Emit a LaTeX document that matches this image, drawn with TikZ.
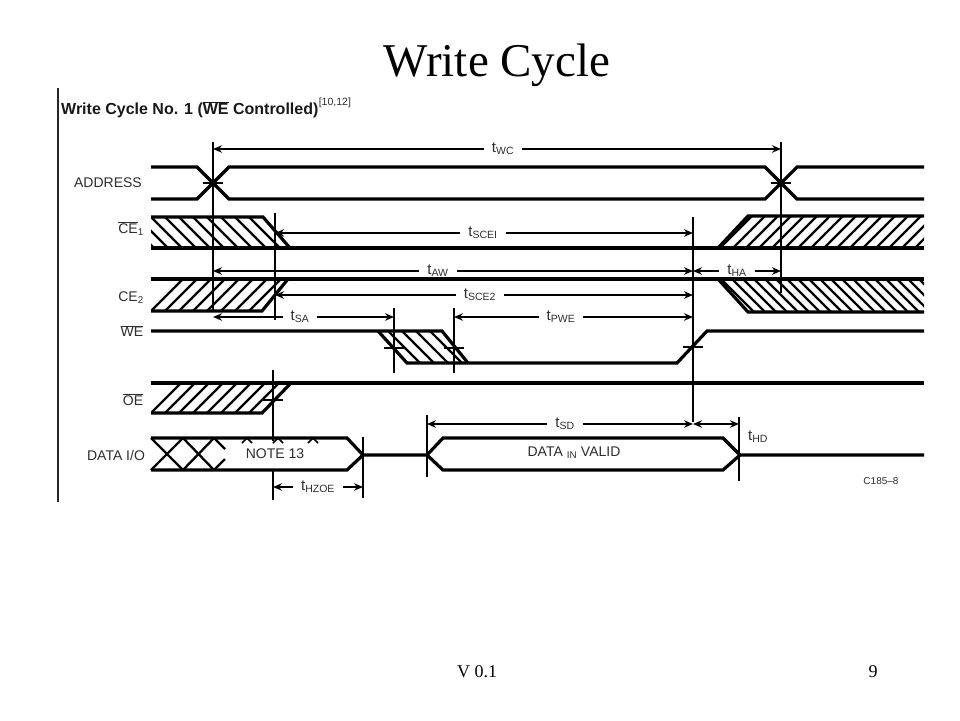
\documentclass[tikz,border=0pt]{standalone}
\usepackage{fontspec}
\setmainfont{Liberation Serif}
\setsansfont{Liberation Sans}
\usetikzlibrary{arrows.meta}
\definecolor{inkgrey}{HTML}{2E2E2E}
\tikzset{
    signal/.style={line width=3.2pt, black, line join=miter},
    edgeline/.style={line width=2.1pt, black},
    hatchline/.style={line width=2.3pt, black},
    dimarrow/.style={line width=1.7pt, black, -{Stealth[length=9pt,width=7.5pt]}},
    dimlabel/.style={inner sep=0pt, outer sep=8pt, font=\sffamily\fontsize{15}{15}\selectfont, text=inkgrey},
    rowlabel/.style={inner sep=0pt, font=\sffamily\fontsize{14}{14}\selectfont, text=inkgrey},
    slidetext/.style={inner sep=0pt, font=\rmfamily\fontsize{18}{18}\selectfont, text=black}
}
% #1 region, #2 #3 #4 first/second/last x on the top edge, #5 top y, #6 run and drop of one stroke
\newcommand{\hatchband}[6]{
    \begin{scope}
        \clip #1;
        \foreach \hx in {#2,#3,...,#4}
            \draw[hatchline] (\hx,#5) -- ++(#6);
    \end{scope}
}
\begin{document}
\begin{tikzpicture}[x=1pt, y=-1pt]
    \useasboundingbox[fill=white] (0,0) rectangle (960,720);

    % heading and frame
    \node[inner sep=0pt, font=\rmfamily\fontsize{47}{47}\selectfont] (title) at (497,65) {Write Cycle};
    \draw[line width=2.4pt, black!85] (58,88) -- (58,502);
    \node[inner sep=0pt, anchor=west, font=\sffamily\bfseries\fontsize{16}{16}\selectfont, text=black!90] (heading) at (61,110)
        {Write Cycle No. 1 ($\overline{\hbox{WE}}$ Controlled)};
    \node[inner sep=0pt, anchor=west, font=\sffamily\fontsize{10.5}{11}\selectfont, text=inkgrey] (refs) at (heading.east) [yshift=7pt] {[10,12]};

    % signal names
    \node[rowlabel] (address) at (108,183) {ADDRESS};
    \node[rowlabel] (ceone) at (131,229) {$\overline{\hbox{CE}}$\textsubscript{1}};
    \node[rowlabel] (cetwo) at (131,298) {CE\textsubscript{2}};
    \node[rowlabel] (we) at (132,331) {$\overline{\hbox{WE}}$};
    \node[rowlabel] (oe) at (133,400) {$\overline{\hbox{OE}}$};
    \node[rowlabel] (dataio) at (116,455) {DATA I/O};

    % hatching
    \hatchband{(151,217) -- (263,217) -- (290,248) -- (151,248) -- cycle}{109}{123}{263}{217}{32,32}
    \hatchband{(151,279) -- (288,279) -- (262,311) -- (151,311) -- cycle}{183}{197}{323}{279}{-32,32}
    \hatchband{(748,216) -- (924,216) -- (924,248) -- (718,248) -- cycle}{752}{765}{960}{216}{-32,32}
    \hatchband{(718,279) -- (924,279) -- (924,312) -- (748,312) -- cycle}{688}{699}{924}{279}{33,33}
    \hatchband{(378,331) -- (442,331) -- (468,363) -- (407,363) -- cycle}{360}{374}{444}{331}{32,32}
    \hatchband{(151,383) -- (291,383) -- (262,413) -- (151,413) -- cycle}{181}{195}{307}{383}{-30,30}

    % ADDRESS
    \draw[signal] (151,167) -- (197,167) -- (229,199) -- (765,199) -- (797,167) -- (924,167);
    \draw[signal] (151,199) -- (197,199) -- (229,167) -- (765,167) -- (797,199) -- (924,199);
    % CE1
    \draw[signal] (151,217) -- (263,217) -- (290,248);
    \draw[signal] (151,248) -- (924,248);
    \draw[signal] (718,248) -- (748,216) -- (924,216);
    % CE2
    \draw[signal] (151,279) -- (924,279);
    \draw[signal] (151,311) -- (262,311) -- (288,279);
    \draw[signal] (718,279) -- (748,312) -- (924,312);
    % WE
    \draw[signal] (151,331) -- (442,331) -- (468,363);
    \draw[signal] (378,331) -- (407,363) -- (677,363) -- (707,331) -- (924,331);
    % OE
    \draw[signal] (151,383) -- (924,383);
    \draw[signal] (151,413) -- (262,413) -- (291,383);
    % DATA I/O
    \draw[signal] (151,438) -- (347,438) -- (363,455) -- (427,455) -- (443,438) -- (723,438) -- (740,455) -- (924,455);
    \draw[signal] (151,470) -- (347,470) -- (363,455);
    \draw[signal] (427,455) -- (443,470) -- (723,470) -- (740,455);
    \foreach \xa/\xb in {151/183,183/214}{
        \draw[hatchline] (\xa,438) -- (\xb,470);
        \draw[hatchline] (\xa,470) -- (\xb,438);
    }
    \draw[hatchline] (214,438) -- (225,449);
    \draw[hatchline] (214,470) -- (225,459);
    \foreach \tx in {247,278,313}{
        \draw[line width=1.6pt] (\tx-5,443) -- (\tx,438) -- (\tx+5,443);
    }

    % timing edges
    \foreach \ex/\ya/\yb in {213/142/312,275/213/320,781/142/293,693/217/422,394/308/373,454/308/373,273/370/441,273/471/500,427/415/477,363/437/498,739/417/481}{
        \draw[edgeline] (\ex,\ya) -- (\ex,\yb);
    }
    \foreach \ex/\ey in {213/183,781/183,394/348,454/348,693/347,273/400}{
        \draw[edgeline] (\ex-10,\ey) -- (\ex+10,\ey);
    }
    \fill (213,183) circle (4pt);
    \fill (781,183) circle (4pt);

    % dimension arrows with the label inside the line
    \foreach \nm/\lx/\ly/\xa/\xb in {WC/503/149/213/781,SCEI/483/233/275/693,AW/438/271/213/693,HA/737/271/693/781,SCE2/480/295/275/693,SA/300/317/213/394,PWE/561/317/454/693,SD/565/424/427/693,HZOE/318/487/273/363}{
        \node[dimlabel] (t\nm) at (\lx,\ly) {t\textsubscript{\nm}};
        \coordinate (t\nm left) at (\xa,\ly);
        \coordinate (t\nm right) at (\xb,\ly);
        \draw[dimarrow] (t\nm) -- (t\nm left);
        \draw[dimarrow] (t\nm) -- (t\nm right);
    }
    \coordinate (tHDleft) at (693,424);
    \coordinate (tHDright) at (739,424);
    \draw[dimarrow, {Stealth[length=9pt,width=7.5pt]}-{Stealth[length=9pt,width=7.5pt]}] (tHDleft) -- (tHDright);
    \node[dimlabel] (tHD) at (758,437) {t\textsubscript{HD}};

    % texts inside the bands
    \node[rowlabel] (note) at (275,454) {NOTE 13};
    \node[rowlabel] (valid) at (574,453) {DATA \textsubscript{IN} VALID};
    \node[inner sep=0pt, font=\sffamily\fontsize{10}{10}\selectfont, text=inkgrey] (partno) at (881,481) {C185--8};

    % footer
    \node[slidetext] (version) at (477,672) {V 0.1};
    \node[slidetext] (pageno) at (873,672) {9};
\end{tikzpicture}
\end{document}
